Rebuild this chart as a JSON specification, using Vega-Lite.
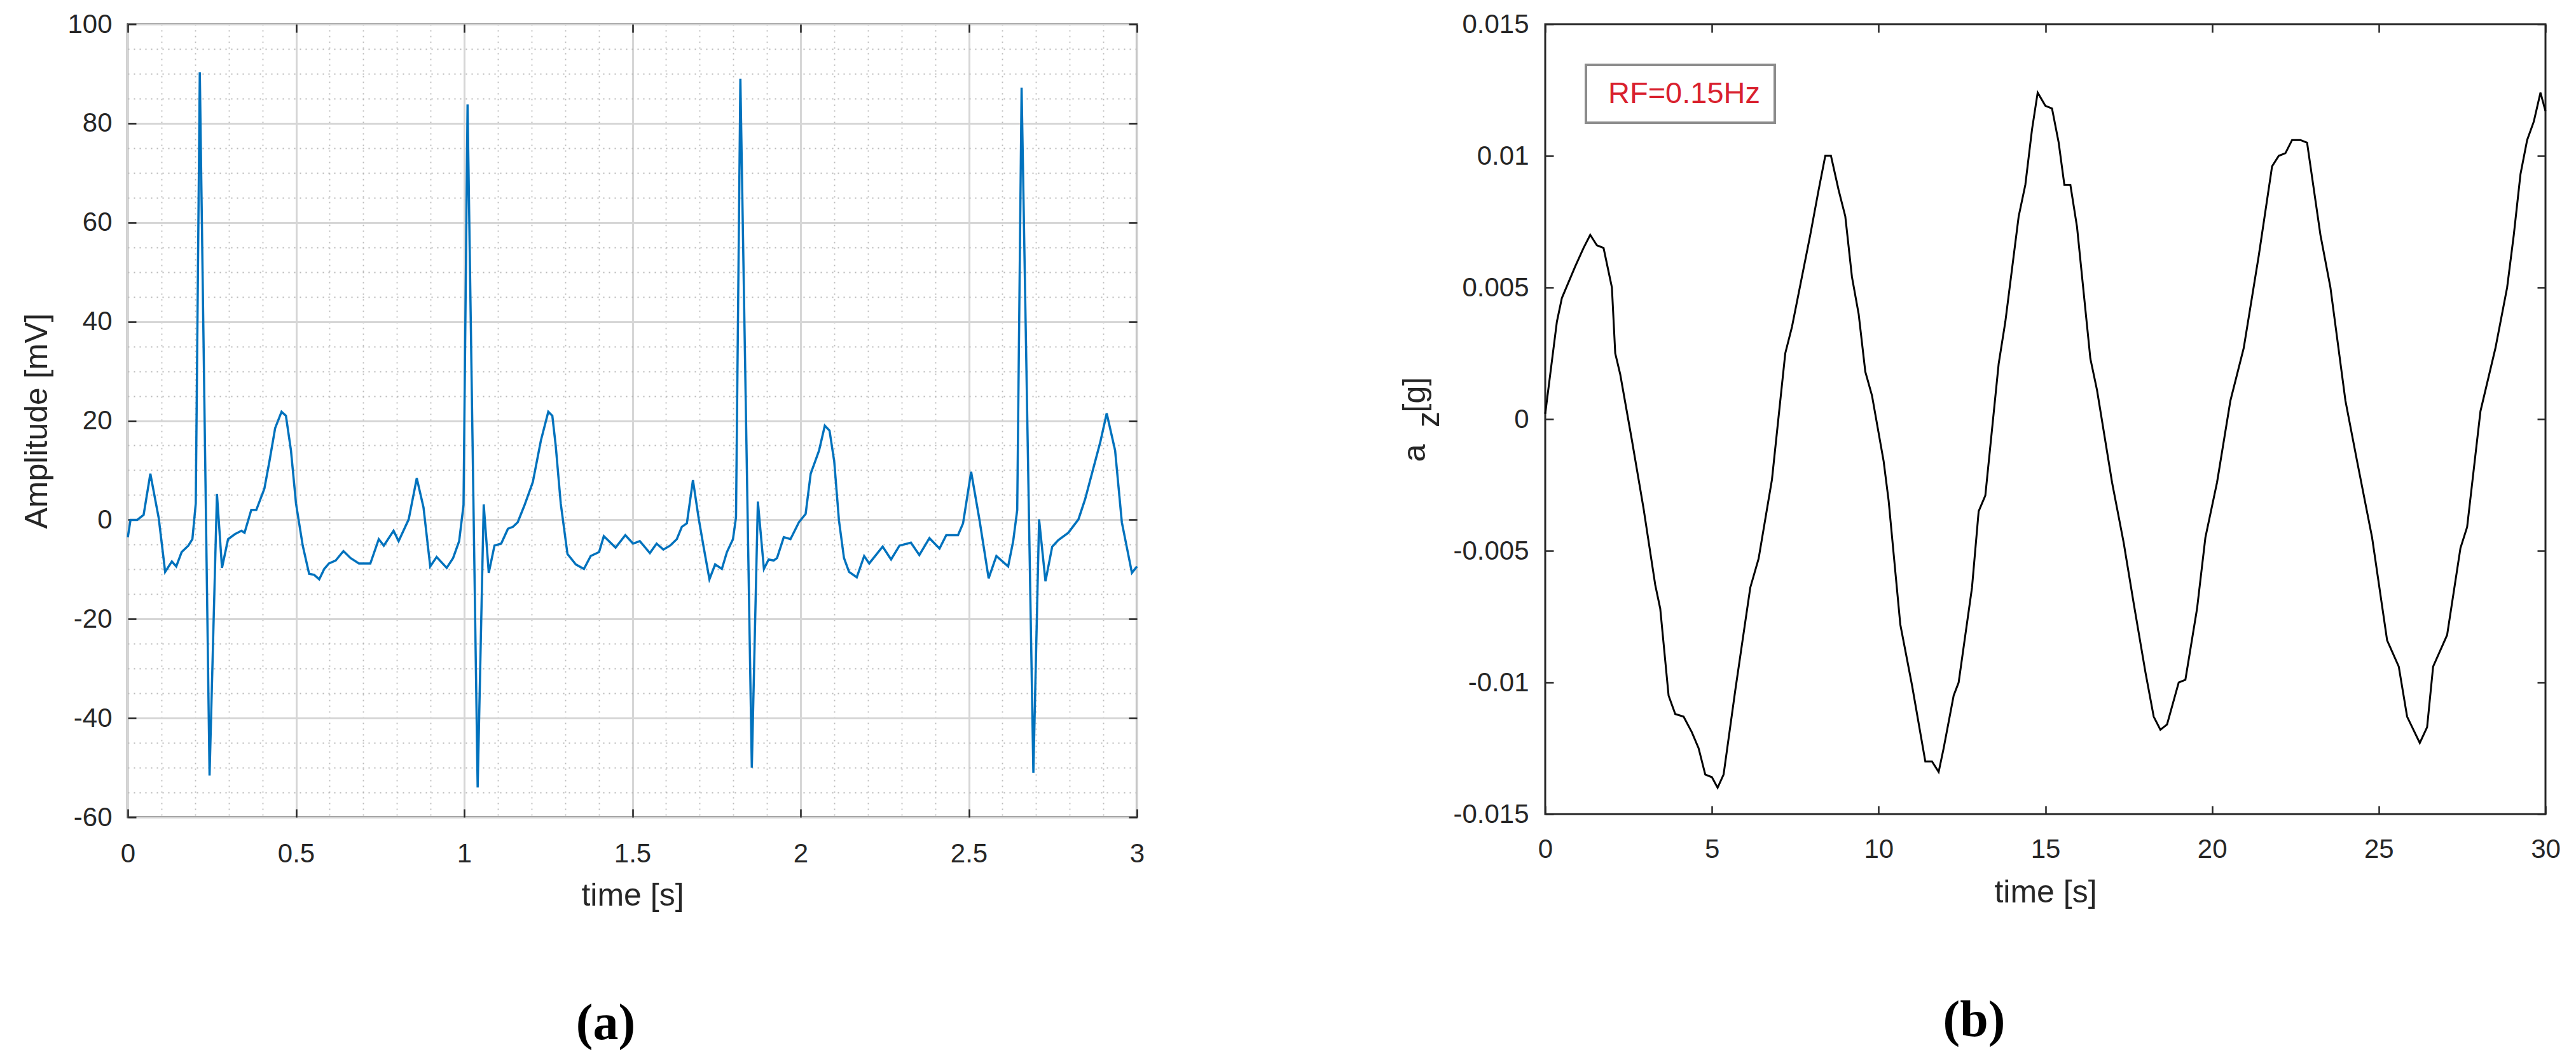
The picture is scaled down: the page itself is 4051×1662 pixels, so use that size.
{
  "$schema": "https://vega.github.io/schema/vega-lite/v6.json",
  "background": "white",
  "autosize": {"type": "pad"},
  "padding": {"left": 32, "top": 15, "right": 0, "bottom": 0},
  "spacing": 642,
  "bounds": "flush",
  "resolve": {"legend": {"color": "independent"}},
  "config": {
    "font": "Liberation Sans",
    "axis": {"labelFont": "Liberation Sans", "titleFont": "Liberation Sans", "labelColor": "#262626", "titleColor": "#262626", "titleFontWeight": "normal"},
    "legend": {"strokeWidth": 4}
  },
  "datasets": {
    "ecg": [
      {"t":0,"v":-3.5},{"t":0.008,"v":0},{"t":0.028,"v":0},{"t":0.047,"v":1},{"t":0.067,"v":9.3},{"t":0.092,"v":0.3},{"t":0.111,"v":-10.5},{"t":0.131,"v":-8.4},{"t":0.144,"v":-9.4},{"t":0.16,"v":-6.5},{"t":0.18,"v":-5.2},{"t":0.192,"v":-3.9},{"t":0.202,"v":3.3},{"t":0.214,"v":90.3},{"t":0.243,"v":-51.6},{"t":0.265,"v":5.2},{"t":0.28,"v":-9.7},{"t":0.298,"v":-3.9},{"t":0.318,"v":-2.9},{"t":0.338,"v":-2.2},{"t":0.347,"v":-2.6},{"t":0.367,"v":2},{"t":0.382,"v":2},{"t":0.406,"v":6.3},{"t":0.421,"v":11.8},{"t":0.438,"v":18.5},{"t":0.457,"v":21.8},{"t":0.47,"v":21},{"t":0.485,"v":14},{"t":0.5,"v":3.3},{"t":0.52,"v":-5.2},{"t":0.539,"v":-10.9},{"t":0.554,"v":-11.1},{"t":0.569,"v":-12},{"t":0.584,"v":-9.9},{"t":0.598,"v":-8.8},{"t":0.618,"v":-8.2},{"t":0.641,"v":-6.3},{"t":0.662,"v":-7.7},{"t":0.687,"v":-8.8},{"t":0.721,"v":-8.8},{"t":0.746,"v":-3.9},{"t":0.761,"v":-5.2},{"t":0.79,"v":-2.2},{"t":0.805,"v":-4.3},{"t":0.835,"v":0.1},{"t":0.859,"v":8.4},{"t":0.879,"v":2.5},{"t":0.899,"v":-9.4},{"t":0.918,"v":-7.5},{"t":0.948,"v":-9.7},{"t":0.967,"v":-7.7},{"t":0.985,"v":-4.3},{"t":0.998,"v":3},{"t":1.01,"v":83.8},{"t":1.04,"v":-54},{"t":1.058,"v":3.1},{"t":1.073,"v":-10.7},{"t":1.09,"v":-5.2},{"t":1.11,"v":-4.8},{"t":1.13,"v":-1.8},{"t":1.145,"v":-1.4},{"t":1.159,"v":-0.5},{"t":1.179,"v":2.9},{"t":1.204,"v":7.6},{"t":1.228,"v":16},{"t":1.25,"v":21.8},{"t":1.262,"v":21},{"t":1.272,"v":15},{"t":1.287,"v":3.3},{"t":1.307,"v":-6.9},{"t":1.332,"v":-9},{"t":1.356,"v":-9.9},{"t":1.376,"v":-7.3},{"t":1.401,"v":-6.5},{"t":1.415,"v":-3.3},{"t":1.45,"v":-5.6},{"t":1.479,"v":-3.1},{"t":1.502,"v":-4.8},{"t":1.522,"v":-4.3},{"t":1.552,"v":-6.7},{"t":1.572,"v":-4.8},{"t":1.592,"v":-6},{"t":1.612,"v":-5.2},{"t":1.632,"v":-3.9},{"t":1.647,"v":-1.4},{"t":1.662,"v":-0.7},{"t":1.68,"v":8},{"t":1.697,"v":0.3},{"t":1.711,"v":-5.2},{"t":1.729,"v":-12},{"t":1.746,"v":-9},{"t":1.766,"v":-9.9},{"t":1.781,"v":-6.5},{"t":1.799,"v":-3.9},{"t":1.808,"v":0.5},{"t":1.821,"v":89},{"t":1.855,"v":-50},{"t":1.873,"v":3.7},{"t":1.891,"v":-9.9},{"t":1.905,"v":-8},{"t":1.92,"v":-8.2},{"t":1.93,"v":-7.7},{"t":1.95,"v":-3.5},{"t":1.97,"v":-3.9},{"t":1.995,"v":-0.5},{"t":2.015,"v":1.2},{"t":2.03,"v":9.3},{"t":2.055,"v":14},{"t":2.072,"v":19},{"t":2.086,"v":18},{"t":2.1,"v":11.8},{"t":2.114,"v":-0.1},{"t":2.129,"v":-7.7},{"t":2.144,"v":-10.5},{"t":2.167,"v":-11.6},{"t":2.189,"v":-7.3},{"t":2.204,"v":-8.8},{"t":2.244,"v":-5.4},{"t":2.269,"v":-8},{"t":2.294,"v":-5.2},{"t":2.328,"v":-4.6},{"t":2.353,"v":-7.1},{"t":2.383,"v":-3.7},{"t":2.413,"v":-5.8},{"t":2.433,"v":-3.1},{"t":2.468,"v":-3.1},{"t":2.483,"v":-0.7},{"t":2.507,"v":9.7},{"t":2.532,"v":-0.1},{"t":2.559,"v":-11.8},{"t":2.582,"v":-7.3},{"t":2.617,"v":-9.4},{"t":2.632,"v":-4.3},{"t":2.644,"v":2},{"t":2.657,"v":87.2},{"t":2.692,"v":-51},{"t":2.709,"v":0.1},{"t":2.728,"v":-12.4},{"t":2.748,"v":-5.4},{"t":2.766,"v":-4.1},{"t":2.796,"v":-2.6},{"t":2.826,"v":0.1},{"t":2.846,"v":4.2},{"t":2.891,"v":15.7},{"t":2.91,"v":21.5},{"t":2.935,"v":14},{"t":2.955,"v":-0.5},{"t":2.985,"v":-10.7},{"t":3,"v":-9.4}
    ],
    "acc": [
      {"t":0,"v":0.0002},{"t":0.15,"v":0.0017},{"t":0.35,"v":0.0037},{"t":0.5,"v":0.0046},{"t":0.6,"v":0.0049},{"t":0.9,"v":0.0058},{"t":1.15,"v":0.0065},{"t":1.35,"v":0.007},{"t":1.55,"v":0.0066},{"t":1.75,"v":0.0065},{"t":1.9,"v":0.0056},{"t":2.0,"v":0.005},{"t":2.1,"v":0.0025},{"t":2.25,"v":0.0017},{"t":2.6,"v":-0.0008},{"t":2.95,"v":-0.0034},{"t":3.3,"v":-0.0063},{"t":3.45,"v":-0.0072},{"t":3.7,"v":-0.0105},{"t":3.9,"v":-0.0112},{"t":4.15,"v":-0.0113},{"t":4.4,"v":-0.0119},{"t":4.6,"v":-0.0125},{"t":4.8,"v":-0.0135},{"t":5.0,"v":-0.0136},{"t":5.17,"v":-0.014},{"t":5.35,"v":-0.0135},{"t":5.7,"v":-0.0103},{"t":6.15,"v":-0.0064},{"t":6.4,"v":-0.0053},{"t":6.8,"v":-0.0023},{"t":7.2,"v":0.0025},{"t":7.4,"v":0.0035},{"t":7.95,"v":0.007},{"t":8.2,"v":0.0087},{"t":8.4,"v":0.01},{"t":8.57,"v":0.01},{"t":8.8,"v":0.0087},{"t":9.0,"v":0.0077},{"t":9.2,"v":0.0054},{"t":9.4,"v":0.004},{"t":9.6,"v":0.0018},{"t":9.8,"v":0.0009},{"t":10.15,"v":-0.0016},{"t":10.3,"v":-0.0031},{"t":10.65,"v":-0.0078},{"t":11.0,"v":-0.0101},{"t":11.4,"v":-0.013},{"t":11.6,"v":-0.013},{"t":11.8,"v":-0.0134},{"t":11.95,"v":-0.0125},{"t":12.25,"v":-0.0105},{"t":12.4,"v":-0.01},{"t":12.8,"v":-0.0064},{"t":13.0,"v":-0.0035},{"t":13.2,"v":-0.0029},{"t":13.6,"v":0.0021},{"t":13.8,"v":0.0037},{"t":14.2,"v":0.0077},{"t":14.4,"v":0.0089},{"t":14.6,"v":0.011},{"t":14.77,"v":0.0124},{"t":15.0,"v":0.0119},{"t":15.2,"v":0.0118},{"t":15.4,"v":0.0105},{"t":15.57,"v":0.0089},{"t":15.75,"v":0.0089},{"t":15.95,"v":0.0073},{"t":16.35,"v":0.0023},{"t":16.55,"v":0.0011},{"t":17.0,"v":-0.0024},{"t":17.35,"v":-0.0047},{"t":17.65,"v":-0.007},{"t":18.0,"v":-0.0096},{"t":18.25,"v":-0.0113},{"t":18.45,"v":-0.0118},{"t":18.65,"v":-0.0116},{"t":19.0,"v":-0.01},{"t":19.2,"v":-0.0099},{"t":19.55,"v":-0.0072},{"t":19.8,"v":-0.0045},{"t":20.15,"v":-0.0024},{"t":20.55,"v":0.0007},{"t":20.95,"v":0.0027},{"t":21.4,"v":0.0062},{"t":21.8,"v":0.0096},{"t":22.0,"v":0.01},{"t":22.2,"v":0.0101},{"t":22.4,"v":0.0106},{"t":22.65,"v":0.0106},{"t":22.85,"v":0.0105},{"t":23.25,"v":0.007},{"t":23.55,"v":0.005},{"t":24.0,"v":0.0007},{"t":24.35,"v":-0.0016},{"t":24.8,"v":-0.0045},{"t":25.25,"v":-0.0084},{"t":25.6,"v":-0.0094},{"t":25.85,"v":-0.0113},{"t":26.23,"v":-0.0123},{"t":26.45,"v":-0.0117},{"t":26.63,"v":-0.0094},{"t":27.05,"v":-0.0082},{"t":27.45,"v":-0.0049},{"t":27.65,"v":-0.0041},{"t":28.05,"v":0.0003},{"t":28.5,"v":0.0027},{"t":28.85,"v":0.005},{"t":29.05,"v":0.007},{"t":29.25,"v":0.0093},{"t":29.45,"v":0.0106},{"t":29.65,"v":0.0113},{"t":29.85,"v":0.0124},{"t":30,"v":0.0117}
    ]
  },
  "hconcat": [
    {
      "width": 1587,
      "height": 1247,
      "view": {"stroke": "#262626", "strokeWidth": 3},
      "title": {"text": "(a)", "orient": "bottom", "anchor": "middle", "frame": "group", "offset": 138, "dx": -42, "fontSize": 80, "font": "Liberation Serif", "fontWeight": "bold", "color": "#000000"},
      "data": {"name": "ecg"},
      "layer": [
        {
          "mark": {"type": "line", "color": "#0072BD", "strokeWidth": 3.5},
          "encoding": {
            "x": {
              "field": "t", "type": "quantitative",
              "scale": {"domain": [0, 3], "nice": false, "zero": false},
              "axis": {
                "orient": "bottom",
                "values": [0,0.1,0.2,0.3,0.4,0.5,0.6,0.7,0.8,0.9,1,1.1,1.2,1.3,1.4,1.5,1.6,1.7,1.8,1.9,2,2.1,2.2,2.3,2.4,2.5,2.6,2.7,2.8,2.9,3],
                "grid": true,
                "gridColor": {"condition": {"test": "abs(datum.value*2-round(datum.value*2))<1e-6", "value": "#d6d6d6"}, "value": "#b8b8b8"},
                "gridDash": {"condition": {"test": "abs(datum.value*2-round(datum.value*2))<1e-6", "value": []}, "value": [2, 7]},
                "gridWidth": {"condition": {"test": "abs(datum.value*2-round(datum.value*2))<1e-6", "value": 3}, "value": 1.8},
                "tickOpacity": {"condition": {"test": "abs(datum.value*2-round(datum.value*2))<1e-6", "value": 1}, "value": 0},
                "labelExpr": "abs(datum.value*2-round(datum.value*2))<1e-6 ? '' + datum.value : ''",
                "tickSize": -13, "tickColor": "#262626", "tickWidth": 2.5,
                "domain": false,
                "labelFontSize": 42, "labelPadding": 50, "labelOverlap": false, "labelFlush": false, "labelBound": false,
                "title": "time [s]", "titleFontSize": 50, "titlePadding": 20
              }
            },
            "y": {
              "field": "v", "type": "quantitative",
              "scale": {"domain": [-60, 100], "nice": false, "zero": false},
              "axis": {
                "orient": "left",
                "values": [-60,-55,-50,-45,-40,-35,-30,-25,-20,-15,-10,-5,0,5,10,15,20,25,30,35,40,45,50,55,60,65,70,75,80,85,90,95,100],
                "grid": true,
                "gridColor": {"condition": {"test": "abs(datum.value/20-round(datum.value/20))<1e-6", "value": "#d6d6d6"}, "value": "#b8b8b8"},
                "gridDash": {"condition": {"test": "abs(datum.value/20-round(datum.value/20))<1e-6", "value": []}, "value": [2, 7]},
                "gridWidth": {"condition": {"test": "abs(datum.value/20-round(datum.value/20))<1e-6", "value": 3}, "value": 1.8},
                "tickOpacity": {"condition": {"test": "abs(datum.value/20-round(datum.value/20))<1e-6", "value": 1}, "value": 0},
                "labelExpr": "abs(datum.value/20-round(datum.value/20))<1e-6 ? '' + datum.value : ''",
                "tickSize": -13, "tickColor": "#262626", "tickWidth": 2.5,
                "domain": false,
                "labelFontSize": 42, "labelPadding": 38, "labelOverlap": false, "labelBound": false, "labelFlush": false,
                "title": "Amplitude [mV]", "titleFontSize": 50, "titlePadding": 22
              }
            }
          }
        },
        {
          "mark": {"type": "line", "opacity": 0},
          "encoding": {
            "x": {
              "field": "t", "type": "quantitative",
              "scale": {"domain": [0, 3], "nice": false, "zero": false},
              "axis": {"orient": "top", "values": [0,0.5,1,1.5,2,2.5,3], "labels": false, "domain": false, "grid": false, "tickSize": -13, "tickColor": "#262626", "tickWidth": 2.5, "title": null}
            },
            "y": {
              "field": "v", "type": "quantitative",
              "scale": {"domain": [-60, 100], "nice": false, "zero": false},
              "axis": {"orient": "right", "values": [-60,-40,-20,0,20,40,60,80,100], "labels": false, "domain": false, "grid": false, "tickSize": -13, "tickColor": "#262626", "tickWidth": 2.5, "title": null}
            }
          }
        }
      ],
      "resolve": {"axis": {"x": "independent", "y": "independent"}}
    },
    {
      "width": 1573,
      "height": 1242,
      "view": {"stroke": "#262626", "strokeWidth": 3},
      "title": {"text": "(b)", "orient": "bottom", "anchor": "middle", "frame": "group", "offset": 138, "dx": -112, "fontSize": 80, "font": "Liberation Serif", "fontWeight": "bold", "color": "#000000"},
      "data": {"name": "acc"},
      "layer": [
        {
          "mark": {"type": "line", "strokeWidth": 3},
          "encoding": {
            "x": {
              "field": "t", "type": "quantitative",
              "scale": {"domain": [0, 30], "nice": false, "zero": false},
              "axis": {
                "orient": "bottom", "values": [0,5,10,15,20,25,30], "grid": false, "domain": false,
                "tickSize": -13, "tickColor": "#262626", "tickWidth": 2.5,
                "labelFontSize": 42, "labelPadding": 48, "labelFlush": false, "labelBound": false, "labelOverlap": false,
                "labelExpr": "'' + datum.value",
                "title": "time [s]", "titleFontSize": 50, "titlePadding": 22
              }
            },
            "y": {
              "field": "v", "type": "quantitative",
              "scale": {"domain": [-0.015, 0.015], "nice": false, "zero": false},
              "axis": {
                "orient": "left", "values": [-0.015,-0.01,-0.005,0,0.005,0.01,0.015], "grid": false, "domain": false,
                "tickSize": -13, "tickColor": "#262626", "tickWidth": 2.5,
                "labelFontSize": 42, "labelPadding": 39, "labelFlush": false, "labelBound": false, "labelOverlap": false,
                "labelExpr": "'' + datum.value",
                "title": ["\u2007a\u2002\u2002[g]", "z"], "titleFontSize": 50, "titleLineHeight": 22, "titlePadding": 12
              }
            },
            "color": {
              "datum": "RF=0.15Hz", "type": "nominal",
              "scale": {"range": ["#000000"]},
              "legend": {
                "orient": "top-left", "offset": 64, "title": null,
                "symbolSize": 0, "symbolStrokeWidth": 0, "symbolOpacity": 0, "labelOffset": -34, "labelLimit": 0,
                "labelFontSize": 47, "labelFont": "Liberation Sans", "labelColor": "#d9212e",
                "padding": 22, "strokeColor": "#8c8c8c", "fillColor": "#ffffff", "cornerRadius": 0
              }
            }
          }
        },
        {
          "mark": {"type": "line", "opacity": 0},
          "encoding": {
            "x": {
              "field": "t", "type": "quantitative",
              "scale": {"domain": [0, 30], "nice": false, "zero": false},
              "axis": {"orient": "top", "values": [0,5,10,15,20,25,30], "labels": false, "domain": false, "grid": false, "tickSize": -13, "tickColor": "#262626", "tickWidth": 2.5, "title": null}
            },
            "y": {
              "field": "v", "type": "quantitative",
              "scale": {"domain": [-0.015, 0.015], "nice": false, "zero": false},
              "axis": {"orient": "right", "values": [-0.015,-0.01,-0.005,0,0.005,0.01,0.015], "labels": false, "domain": false, "grid": false, "tickSize": -13, "tickColor": "#262626", "tickWidth": 2.5, "title": null}
            }
          }
        }
      ],
      "resolve": {"axis": {"x": "independent", "y": "independent"}}
    }
  ]
}
